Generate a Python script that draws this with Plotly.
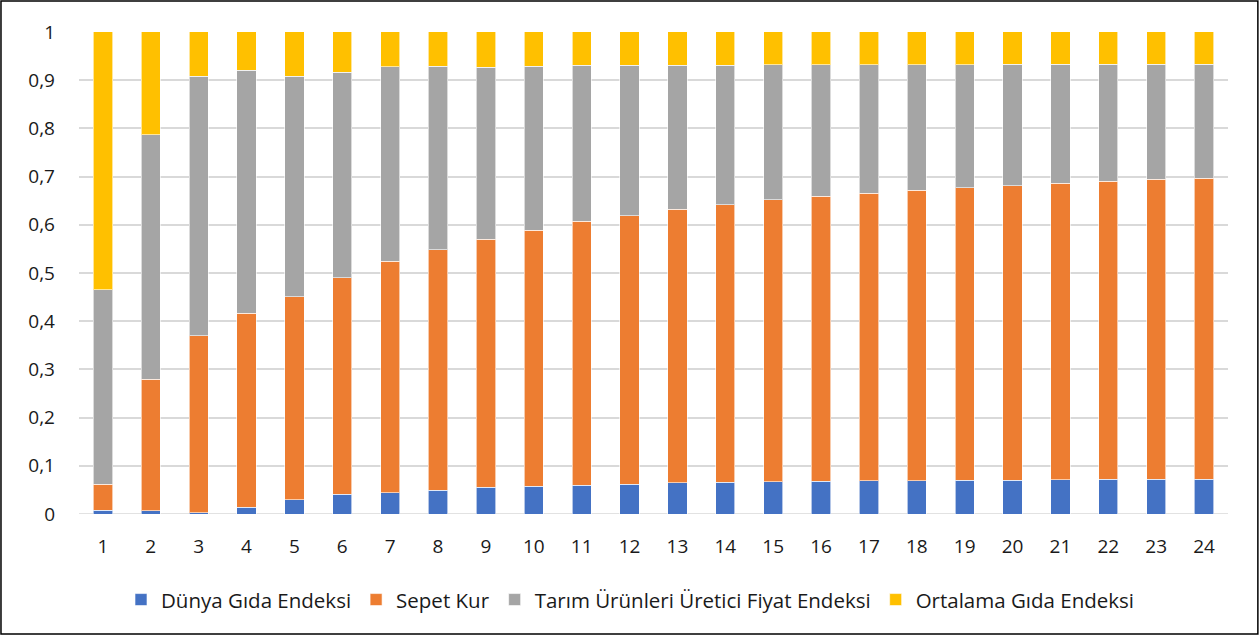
import plotly.graph_objects as go

categories = [str(i) for i in range(1, 25)]

dunya_gida = [0.008, 0.007, 0.003, 0.014, 0.030, 0.041, 0.044, 0.049, 0.055, 0.058, 0.060, 0.062,
              0.065, 0.066, 0.067, 0.068, 0.069, 0.069, 0.070, 0.070, 0.071, 0.072, 0.072, 0.072]
sepet_kur = [0.054, 0.273, 0.367, 0.402, 0.421, 0.449, 0.480, 0.499, 0.515, 0.531, 0.547, 0.557,
             0.567, 0.576, 0.585, 0.591, 0.596, 0.603, 0.607, 0.611, 0.615, 0.618, 0.622, 0.625]
tarim_ufe = [0.403, 0.507, 0.538, 0.505, 0.457, 0.426, 0.404, 0.381, 0.357, 0.340, 0.324, 0.312,
             0.299, 0.289, 0.280, 0.273, 0.267, 0.260, 0.255, 0.252, 0.247, 0.243, 0.239, 0.236]
ortalama_gida = [0.535, 0.213, 0.092, 0.079, 0.092, 0.084, 0.072, 0.071, 0.073, 0.071, 0.069, 0.069,
                 0.069, 0.069, 0.068, 0.068, 0.068, 0.068, 0.068, 0.067, 0.067, 0.067, 0.067, 0.067]

series_names = ["Dünya Gıda Endeksi", "Sepet Kur", "Tarım Ürünleri Üretici Fiyat Endeksi", "Ortalama Gıda Endeksi"]
series_colors = ["#4472C4", "#ED7D31", "#A5A5A5", "#FFC000"]

y_tickvals = [0, 0.1, 0.2, 0.3, 0.4, 0.5, 0.6, 0.7, 0.8, 0.9, 1]
y_ticktext = ["0", "0,1", "0,2", "0,3", "0,4", "0,5", "0,6", "0,7", "0,8", "0,9", "1"]

fig = go.Figure()
for name, vals, col in zip(series_names, [dunya_gida, sepet_kur, tarim_ufe, ortalama_gida], series_colors):
    fig.add_trace(go.Bar(x=categories, y=vals, name=name,
                         marker=dict(color=col, line=dict(color="rgba(255,255,255,0.6)", width=1))))

font_family = "Open Sans"
fig.update_layout(
    barmode="stack",
    bargap=0.6,
    width=1260, height=636,
    margin=dict(l=79, r=32, t=31, b=122),
    plot_bgcolor="white", paper_bgcolor="white",
    font=dict(family=font_family, size=19, color="#1a1a1a"),
    legend=dict(orientation="h", xref="container", x=0.5, xanchor="center", yref="container", y=0.057,
                yanchor="middle", font=dict(size=20.5, color="#1a1a1a"), traceorder="normal", itemwidth=30),
    xaxis=dict(type="category", showgrid=False, showline=False, ticks="", tickfont=dict(size=19),
               ticklabelstandoff=19),
    yaxis=dict(range=[0, 1.002], tickvals=y_tickvals, ticktext=y_ticktext, showgrid=True, gridcolor="#D9D9D9",
               gridwidth=1.5, zeroline=False, showline=False, ticks="", tickfont=dict(size=19),
               ticklabelstandoff=23),
    shapes=[dict(type="rect", xref="paper", yref="paper", x0=-0.0679, x1=1.026, y0=-0.2484, y1=1.062,
                 line=dict(color="black", width=1.5), fillcolor="rgba(0,0,0,0)", layer="below"),
            dict(type="line", xref="paper", yref="y", x0=0, x1=1, y0=0, y1=0,
                 line=dict(color="#D9D9D9", width=1.5), layer="below")],
)
fig.write_html("out.html", config={"displayModeBar": False},
               post_script="document.body.style.margin='0';document.body.style.overflow='hidden';")
